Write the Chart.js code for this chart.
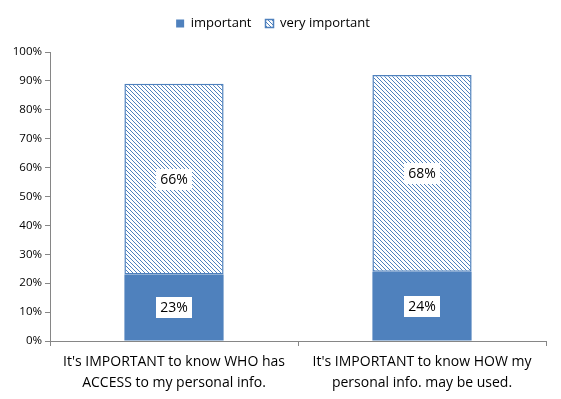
<!DOCTYPE html>
<html>
<head>
<meta charset="utf-8">
<script src="https://cdn.jsdelivr.net/npm/chart.js@4"></script>
<style>
  html, body { margin: 0; padding: 0; background: #fff; }
  #wrap { width: 561px; height: 399px; }
</style>
</head>
<body>
<div id="wrap"><canvas id="grafico" width="561" height="399"></canvas></div>
<script>
// categorias y valores (porcentajes)
const categorias = [
  ["It's IMPORTANT to know WHO has", "ACCESS to my personal info."],
  ["It's IMPORTANT to know HOW my", "personal info. may be used."]
];
const importante = [23, 24];
const muyImportante = [66, 68];
const nombresSeries = ['important', 'very important'];

const azul = '#4F81BD';
const gris = '#868686';
const fuente = "'Open Sans', sans-serif";

// trama diagonal para "very important"
function trama() {
  const c = document.createElement('canvas');
  c.width = 4; c.height = 4;
  const g = c.getContext('2d');
  g.fillStyle = '#fff';
  g.fillRect(0, 0, 4, 4);
  g.fillStyle = azul;
  for (let i = 0; i < 4; i++) g.fillRect(i, i, 1, 1);
  return g.createPattern(c, 'repeat');
}

// mas espacio debajo de la leyenda
const espacioLeyenda = {
  id: 'espacioLeyenda',
  beforeInit(chart) {
    const fit = chart.legend.fit;
    chart.legend.fit = function() {
      fit.call(this);
      this.height += 12;
    };
  }
};

// etiquetas blancas en el centro de cada barra
const etiquetas = {
  id: 'etiquetas',
  afterDatasetsDraw(chart) {
    const ctx = chart.ctx;
    ctx.save();
    ctx.font = '14px ' + fuente;
    ctx.textAlign = 'center';
    ctx.textBaseline = 'middle';
    chart.data.datasets.forEach((ds, i) => {
      chart.getDatasetMeta(i).data.forEach((bar, j) => {
        const txt = ds.data[j] + '%';
        const y = (bar.y + bar.base) / 2;
        const w = ctx.measureText(txt).width + 8;
        const h = 21;
        ctx.fillStyle = '#fff';
        ctx.fillRect(Math.round(bar.x - w / 2), Math.round(y - h / 2), Math.round(w), h);
        ctx.fillStyle = '#000';
        ctx.fillText(txt, bar.x, y + 1);
      });
    });
    ctx.restore();
  }
};

const ctx = document.getElementById('grafico').getContext('2d');
new Chart(ctx, {
  type: 'bar',
  data: {
    labels: categorias,
    datasets: [
      {
        label: nombresSeries[0],
        data: importante,
        backgroundColor: azul,
        borderColor: azul,
        borderWidth: 0,
        categoryPercentage: 1,
        barPercentage: 0.4
      },
      {
        label: nombresSeries[1],
        data: muyImportante,
        backgroundColor: trama(),
        borderColor: azul,
        borderWidth: 1.5,
        borderSkipped: false,
        categoryPercentage: 1,
        barPercentage: 0.4
      }
    ]
  },
  options: {
    responsive: false,
    animation: false,
    devicePixelRatio: 1,
    layout: { padding: { left: 0, right: 15, top: 3, bottom: 0 } },
    plugins: {
      legend: {
        position: 'top',
        labels: {
          boxWidth: 8,
          boxHeight: 8,
          padding: 14,
          color: '#000',
          font: { family: fuente, size: 13 }
        }
      },
      tooltip: { enabled: false }
    },
    scales: {
      x: {
        stacked: true,
        grid: { display: true, drawOnChartArea: false, offset: true, color: gris, tickLength: 5 },
        border: { color: gris, width: 1 },
        ticks: { color: '#000', font: { family: fuente, size: 14, lineHeight: 1.5 }, maxRotation: 0, padding: 6 },
        afterFit(s) { s.height = 58; }
      },
      y: {
        stacked: true,
        min: 0,
        max: 100,
        grid: { display: true, drawOnChartArea: false, color: gris, tickLength: 5 },
        border: { color: gris, width: 1 },
        ticks: {
          stepSize: 10,
          color: '#000',
          font: { family: fuente, size: 11.5 },
          padding: 3,
          callback: v => v + '%'
        },
        afterFit(s) { s.width = 50; }
      }
    }
  },
  plugins: [espacioLeyenda, etiquetas]
});
</script>
</body>
</html>
